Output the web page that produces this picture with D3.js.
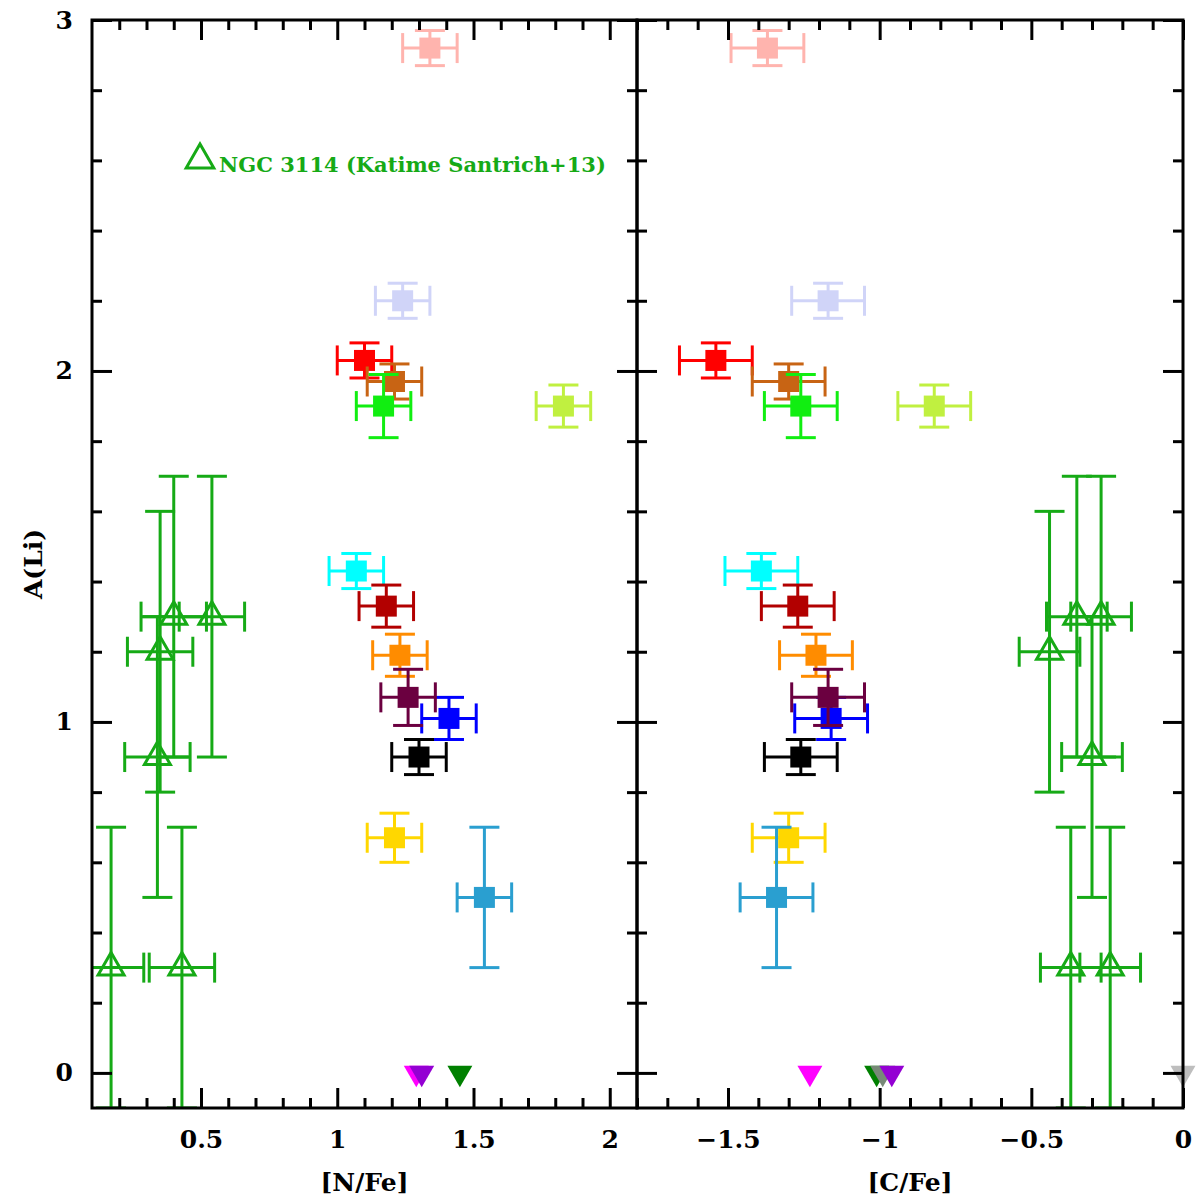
<!DOCTYPE html>
<html>
<head>
<meta charset="utf-8">
<script src="https://cdn.jsdelivr.net/npm/d3@7"></script>
<style>
  body { margin: 0; background: #fff; }
  svg { display: block; }
  text { font-family: 'DejaVu Serif', serif; font-weight: bold; }
</style>
</head>
<body>
<svg id="chart" width="1200" height="1200"></svg>
<script>
// ── Data: Li-rich / sample stars (filled squares) ─────────────
const starColors = ['#ffb4ae', '#d0d4f8', '#ff0000', '#c86414', '#11ee11', '#c0f040',
  '#00ffff', '#b20000', '#ff8c00', '#0000ff', '#6b0040', '#000000', '#ffd700', '#2a9fd0'];
const starNFe = [1.34, 1.24, 1.10, 1.21, 1.17, 1.83, 1.07, 1.18, 1.23, 1.41, 1.26, 1.30, 1.21, 1.54];
const starCFe = [-1.37, -1.17, -1.54, -1.30, -1.26, -0.82, -1.39, -1.27, -1.21, -1.16, -1.17, -1.26, -1.30, -1.34];
const starALi = [2.92, 2.20, 2.03, 1.97, 1.90, 1.90, 1.43, 1.33, 1.19, 1.01, 1.07, 0.90, 0.67, 0.50];
const starALiErr = [0.05, 0.05, 0.05, 0.05, 0.09, 0.06, 0.05, 0.06, 0.06, 0.06, 0.08, 0.05, 0.07, 0.20];
const starNFeErr = [0.10, 0.10, 0.10, 0.10, 0.10, 0.10, 0.10, 0.10, 0.10, 0.10, 0.10, 0.10, 0.10, 0.10];
const starCFeErr = [0.12, 0.12, 0.12, 0.12, 0.12, 0.12, 0.12, 0.12, 0.12, 0.12, 0.12, 0.12, 0.12, 0.12];

// ── Upper limits on A(Li) (filled down triangles at 0) ───────
const limColors = ['#ff00ff', '#008000', '#778877', '#9400d3', '#bebebe'];
const limNFe = [1.29, 1.45, null, 1.31, null];
const limCFe = [-1.23, -1.01, -0.99, -0.96, 0.0];
const limALi = [0, 0, 0, 0, 0];

// ── NGC 3114 (Katime Santrich+13), open triangles ────────────
const ngcNFe = [0.40, 0.54, 0.35, 0.34, 0.17, 0.43];
const ngcCFe = [-0.35, -0.27, -0.44, -0.30, -0.37, -0.24];
const ngcALi = [1.30, 1.30, 1.20, 0.90, 0.30, 0.30];
const ngcALiErr = [0.4, 0.4, 0.4, 0.4, 0.4, 0.4];
const ngcNFeErr = [0.12, 0.12, 0.12, 0.12, 0.12, 0.12];
const ngcCFeErr = [0.10, 0.10, 0.10, 0.10, 0.10, 0.10];
const ngcColor = '#16aa16';

// ── Ticks ────────────────────────────────────────────────────
const yMajor = [0, 1, 2, 3];
const yMinor = [0.2, 0.4, 0.6, 0.8, 1.2, 1.4, 1.6, 1.8, 2.2, 2.4, 2.6, 2.8];
const nMajor = [0.5, 1, 1.5, 2];
const nMinor = [0.2, 0.3, 0.4, 0.6, 0.7, 0.8, 0.9, 1.1, 1.2, 1.3, 1.4, 1.6, 1.7, 1.8, 1.9, 2.1];
const cMajor = [-1.5, -1, -0.5, 0];
const cMinor = [-1.7, -1.6, -1.4, -1.3, -1.2, -1.1, -0.9, -0.8, -0.7, -0.6, -0.4, -0.3, -0.2, -0.1];

// ═══════════════════════════════════════════════════════
// SETUP
// ═══════════════════════════════════════════════════════
const svg = d3.select('#chart');
svg.append('rect').attr('width', 1200).attr('height', 1200).attr('fill', '#fff');

const pTop = 20, pBottom = 1108, pLeft = 92, pMid = 637, pRight = 1183;
const y = d3.scaleLinear([-0.1, 3], [pBottom, pTop]);
const xN = d3.scaleLinear([0.1, 2.1], [pLeft, pMid]);
const xC = d3.scaleLinear([-1.8, 0], [pMid, pRight]);

const CAP = 15, SQ = 21, LW = 3;

const defs = svg.append('defs');
[['clipN', pLeft, pMid], ['clipC', pMid, pRight]].forEach(([id, x0, x1]) => {
  defs.append('clipPath').attr('id', id)
    .append('rect').attr('x', x0).attr('y', pTop).attr('width', x1 - x0).attr('height', pBottom - pTop);
});

// error bar with caps: horizontal + vertical
function errorBars(g, x, cx, cy, ex, ey, color) {
  const px = x(cx), py = y(cy);
  const x0 = x(cx - ex), x1 = x(cx + ex), y0 = y(cy - ey), y1 = y(cy + ey);
  const segs = [
    [x0, py, x1, py], [x0, py - CAP, x0, py + CAP], [x1, py - CAP, x1, py + CAP],
    [px, y0, px, y1], [px - CAP, y0, px + CAP, y0], [px - CAP, y1, px + CAP, y1]
  ];
  g.selectAll(null).data(segs).join('line')
    .attr('x1', d => d[0]).attr('y1', d => d[1]).attr('x2', d => d[2]).attr('y2', d => d[3])
    .attr('stroke', color).attr('stroke-width', LW);
}

const triUp = d3.symbol().type(d3.symbolTriangle).size(292);
const triDown = d3.symbol().type(d3.symbolTriangle).size(270);

function drawPanel(x, clipId, starX, starXErr, limX, ngcX, ngcXErr) {
  const g = svg.append('g').attr('clip-path', `url(#${clipId})`);

  // NGC 3114 stars
  ngcX.forEach((v, i) => {
    const gg = g.append('g');
    errorBars(gg, x, v, ngcALi[i], ngcXErr[i], ngcALiErr[i], ngcColor);
    gg.append('path').attr('d', triUp())
      .attr('transform', `translate(${x(v)},${y(ngcALi[i])})`)
      .attr('fill', 'none').attr('stroke', ngcColor).attr('stroke-width', LW);
  });

  // sample stars
  starX.forEach((v, i) => {
    const gg = g.append('g');
    errorBars(gg, x, v, starALi[i], starXErr[i], starALiErr[i], starColors[i]);
    gg.append('rect')
      .attr('x', x(v) - SQ / 2).attr('y', y(starALi[i]) - SQ / 2)
      .attr('width', SQ).attr('height', SQ)
      .attr('fill', starColors[i]);
  });

  // upper limits (not clipped)
  limX.forEach((v, i) => {
    if (v === null) return;
    svg.append('path').attr('d', triDown())
      .attr('transform', `translate(${x(v)},${y(limALi[i])}) rotate(180)`)
      .attr('fill', limColors[i]);
  });
}

drawPanel(xN, 'clipN', starNFe, starNFeErr, limNFe, ngcNFe, ngcNFeErr);
drawPanel(xC, 'clipC', starCFe, starCFeErr, limCFe, ngcCFe, ngcCFeErr);

// ── Axes ─────────────────────────────────────────────
const fmt = d3.format('~g');
function styleAxis(sel) {
  sel.select('.domain').remove();
  sel.selectAll('line').attr('stroke', '#000').attr('stroke-width', LW);
  sel.attr('font-family', "'DejaVu Serif', serif").attr('font-size', 25);
  sel.selectAll('text').attr('font-weight', 'bold').attr('fill', '#000');
}
function addAxis(axis, tx, ty) {
  svg.append('g').attr('transform', `translate(${tx},${ty})`).call(axis).call(styleAxis);
}

// bottom
addAxis(d3.axisBottom(xN).tickValues(nMajor).tickSize(-20).tickPadding(22).tickFormat(fmt), 0, pBottom);
addAxis(d3.axisBottom(xN).tickValues(nMinor).tickSize(-10).tickFormat(''), 0, pBottom);
addAxis(d3.axisBottom(xC).tickValues(cMajor).tickSize(-20).tickPadding(22).tickFormat(fmt), 0, pBottom);
addAxis(d3.axisBottom(xC).tickValues(cMinor).tickSize(-10).tickFormat(''), 0, pBottom);
// top
addAxis(d3.axisTop(xN).tickValues(nMajor).tickSize(-20).tickFormat(''), 0, pTop);
addAxis(d3.axisTop(xN).tickValues(nMinor).tickSize(-10).tickFormat(''), 0, pTop);
addAxis(d3.axisTop(xC).tickValues(cMajor).tickSize(-20).tickFormat(''), 0, pTop);
addAxis(d3.axisTop(xC).tickValues(cMinor).tickSize(-10).tickFormat(''), 0, pTop);
// left of left panel (labelled)
addAxis(d3.axisLeft(y).tickValues(yMajor).tickSize(-20).tickPadding(19).tickFormat(fmt), pLeft, 0);
addAxis(d3.axisLeft(y).tickValues(yMinor).tickSize(-10).tickFormat(''), pLeft, 0);
// divider: both panels
addAxis(d3.axisRight(y).tickValues(yMajor).tickSize(-20).tickFormat(''), pMid, 0);
addAxis(d3.axisRight(y).tickValues(yMinor).tickSize(-10).tickFormat(''), pMid, 0);
addAxis(d3.axisLeft(y).tickValues(yMajor).tickSize(-20).tickFormat(''), pMid, 0);
addAxis(d3.axisLeft(y).tickValues(yMinor).tickSize(-10).tickFormat(''), pMid, 0);
// right
addAxis(d3.axisRight(y).tickValues(yMajor).tickSize(-20).tickFormat(''), pRight, 0);
addAxis(d3.axisRight(y).tickValues(yMinor).tickSize(-10).tickFormat(''), pRight, 0);

// frames
[[pLeft, pMid], [pMid, pRight]].forEach(([x0, x1]) => {
  svg.append('rect').attr('x', x0).attr('y', pTop).attr('width', x1 - x0).attr('height', pBottom - pTop)
    .attr('fill', 'none').attr('stroke', '#000').attr('stroke-width', LW);
});

// ── Titles ─────────────────────────────────────────────
svg.append('text').attr('x', (pLeft + pMid) / 2).attr('y', 1191)
  .attr('text-anchor', 'middle').attr('font-size', 25).text('[N/Fe]');
svg.append('text').attr('x', (pMid + pRight) / 2).attr('y', 1191)
  .attr('text-anchor', 'middle').attr('font-size', 25).text('[C/Fe]');
svg.append('text').attr('transform', `translate(42,${(pTop + pBottom) / 2}) rotate(-90)`)
  .attr('text-anchor', 'middle').attr('font-size', 25).text('A(Li)');

// ── Legend ─────────────────────────────────────────────
svg.append('path').attr('d', d3.symbol().type(d3.symbolTriangle).size(330)())
  .attr('transform', 'translate(200,160)')
  .attr('fill', 'none').attr('stroke', ngcColor).attr('stroke-width', LW);
svg.append('text').attr('x', 219).attr('y', 172).attr('font-size', 21)
  .attr('fill', ngcColor).text('NGC 3114 (Katime Santrich+13)');
</script>
</body>
</html>
